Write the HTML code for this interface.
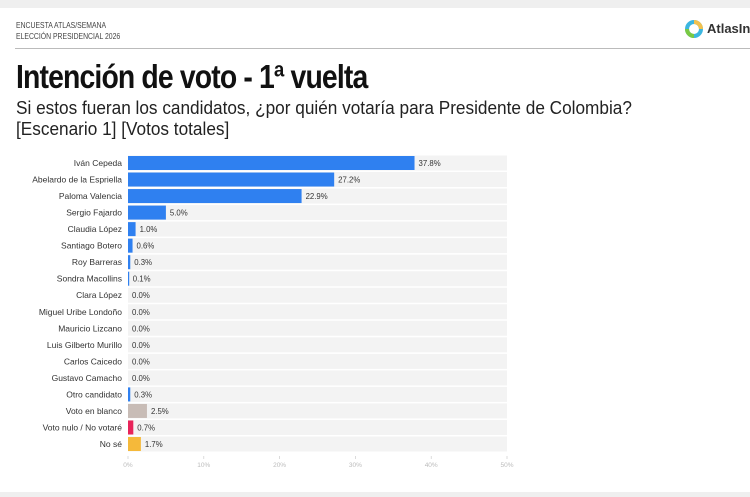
<!DOCTYPE html>
<html><head><meta charset="utf-8"><style>
body{margin:0;width:750px;height:497px;background:#efefef;overflow:hidden;font-family:"Liberation Sans",sans-serif;position:relative}
.card{position:absolute;left:0;top:8px;width:750px;height:484px;background:#fff}
.t{position:absolute;white-space:nowrap;color:#222}
</style></head><body>
<div class="card"></div>
<div class="t" style="left:16px;top:20px;font-size:7.8px;line-height:11px;color:#444;transform:scaleX(0.88);transform-origin:left">ENCUESTA ATLAS/SEMANA<br>ELECCIÓN PRESIDENCIAL 2026</div>
<div style="position:absolute;left:685px;top:20px;width:750px">
<svg width="18" height="18" style="position:absolute;left:0;top:0"><circle cx="9" cy="9" r="7" fill="none" stroke="#3bb6e0" stroke-width="4"/><path d="M9 2 A7 7 0 0 1 16 9" stroke="#f2c14e" stroke-width="4" fill="none"/><path d="M2 9 A7 7 0 0 0 9 16" stroke="#7ac943" stroke-width="4" fill="none"/></svg>
<span class="t" style="left:22px;top:1px;font-size:13px;font-weight:bold;color:#333">AtlasIntel</span></div>
<div style="position:absolute;left:15px;top:48px;width:735px;height:1px;background:#bbb"></div>
<div class="t" style="left:16px;top:58px;font-size:33px;font-weight:bold;color:#111;letter-spacing:-1px;transform:scaleX(0.86);transform-origin:left">Intención de voto - 1ª vuelta</div>
<div class="t" style="left:16px;top:97px;font-size:18.5px;line-height:21px;color:#222;transform:scaleX(0.93);transform-origin:left">Si estos fueran los candidatos, ¿por quién votaría para Presidente de Colombia?<br>[Escenario 1] [Votos totales]</div>
<svg id="ch" width="750" height="497" style="position:absolute;left:0;top:0"></svg>
<script>
const categories=["Iván Cepeda","Abelardo de la Espriella","Paloma Valencia","Sergio Fajardo","Claudia López","Santiago Botero","Roy Barreras","Sondra Macollins","Clara López","Miguel Uribe Londoño","Mauricio Lizcano","Luis Gilberto Murillo","Carlos Caicedo","Gustavo Camacho","Otro candidato","Voto en blanco","Voto nulo / No votaré","No sé"];
const values=[37.8,27.2,22.9,5.0,1.0,0.6,0.3,0.1,0,0,0,0,0,0,0.3,2.5,0.7,1.7];
const colors=["#2f80f0","#2f80f0","#2f80f0","#2f80f0","#2f80f0","#2f80f0","#2f80f0","#2f80f0","#2f80f0","#2f80f0","#2f80f0","#2f80f0","#2f80f0","#2f80f0","#2f80f0","#c8bcb6","#e8245a","#f5b93a"];
const ticks=[0,10,20,30,40,50];
const NS="http://www.w3.org/2000/svg",svg=document.getElementById('ch');
const x=v=>128+v*(507-128)/50, y=i=>163+i*16.53;
function mk(t,a){const e=document.createElementNS(NS,t);for(const k in a)e.setAttribute(k,a[k]);svg.appendChild(e);return e;}
categories.forEach((c,i)=>{
 const bg=mk('rect',{x:128,y:y(i)-7.5,width:379,height:15,fill:'#f3f3f3'});
 
 
 const v=values[i];
 if(v>0){const r=mk('rect',{x:128,y:y(i)-7,width:Math.max(x(v)-128,1.2),height:14,fill:colors[i]});
 
 }
 const l=mk('text',{x:122,y:y(i)+3,'font-size':8.5,'text-anchor':'end',fill:'#333'});l.textContent=c;
 
 
 const vl=mk('text',{x:x(v)+4,y:y(i)+3,'font-size':7.8,fill:'#333'});vl.textContent=v.toFixed(1)+'%';
 
 
});
ticks.forEach(t=>{
 const tk=mk('text',{x:x(t),y:467,'font-size':6.5,'text-anchor':'middle',fill:'#bbb'});tk.textContent=t+'%';
 
 
 const tl=mk('line',{x1:x(t),x2:x(t),y1:456,y2:459,stroke:'#ccc','stroke-width':0.7});
 
 
});
</script>
</body></html>
